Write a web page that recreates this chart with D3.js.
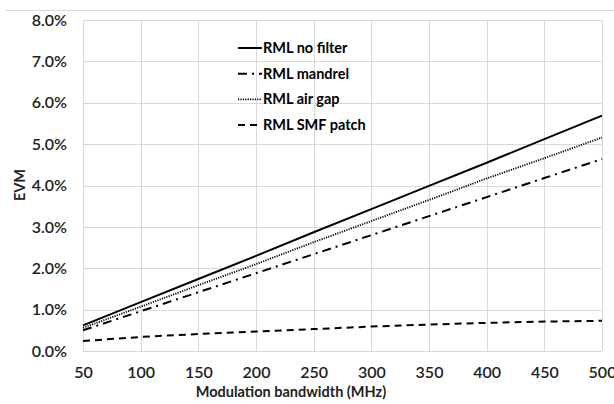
<!DOCTYPE html>
<html>
<head>
<meta charset="utf-8">
<script src="https://cdn.jsdelivr.net/npm/d3@7"></script>
<style>
  body { margin: 0; background: #fff; }
  svg { display: block; font-family: Lato, sans-serif; }
</style>
</head>
<body>
<svg width="614" height="404"></svg>
<script>
// bandwidth points (MHz)
var bandwidth = [50, 100, 150, 200, 250, 300, 350, 400, 450, 500];
// EVM values in %
var noFilter = [0.62, 1.18, 1.74, 2.30, 2.87, 3.43, 3.99, 4.55, 5.12, 5.69];
var mandrel = [0.50, 0.96, 1.42, 1.88, 2.34, 2.80, 3.26, 3.72, 4.18, 4.64];
var airGap = [0.56, 1.07, 1.59, 2.10, 2.63, 3.14, 3.65, 4.17, 4.66, 5.16];
var smfPatch = [0.24, 0.34, 0.41, 0.47, 0.53, 0.59, 0.64, 0.68, 0.71, 0.73];
var seriesNames = ["RML no filter", "RML mandrel", "RML air gap", "RML SMF patch"];
var yTicks = [0, 1, 2, 3, 4, 5, 6, 7, 8];

var seriesList = [
    { name: seriesNames[0], values: noFilter, dash: null, width: 2 },
    { name: seriesNames[1], values: mandrel, dash: "9,5,2,5", width: 2 },
    { name: seriesNames[2], values: airGap, dash: "1.2,1.2", width: 1.8 },
    { name: seriesNames[3], values: smfPatch, dash: "7,5", width: 2 }
];

const svg = d3.select('svg');
const margin = { top: 20, left: 83, right: 12, bottom: 53 };
const width = 614, height = 404;
const innerWidth = width - margin.left - margin.right;
const innerHeight = height - margin.top - margin.bottom;

// chart area top border
svg.append('line')
    .attr('x1', 5).attr('x2', 614).attr('y1', 10.5).attr('y2', 10.5)
    .attr('stroke', '#d9d9d9');

const xScale = d3.scaleLinear().domain([50, 500]).range([0, innerWidth]);
const yScale = d3.scaleLinear().domain([0, 8]).range([innerHeight, 0]);

const g = svg.append('g')
    .attr('transform', 'translate(' + margin.left + ',' + margin.top + ')');

// gridlines
g.append('g').selectAll('line').data(yTicks).join('line')
    .attr('x1', 0).attr('x2', innerWidth)
    .attr('y1', d => Math.round(yScale(d)) + 0.5)
    .attr('y2', d => Math.round(yScale(d)) + 0.5)
    .attr('stroke', '#d9d9d9');
g.append('g').selectAll('line').data(bandwidth).join('line')
    .attr('y1', 0).attr('y2', innerHeight)
    .attr('x1', d => Math.round(xScale(d)) + 0.5)
    .attr('x2', d => Math.round(xScale(d)) + 0.5)
    .attr('stroke', '#d9d9d9');

// axes (labels only)
const yAxis = d3.axisLeft(yScale).tickValues(yTicks)
    .tickFormat(d => d.toFixed(1) + '%').tickSize(0).tickPadding(16);
g.append('g').call(yAxis)
    .attr('font-family', 'Lato, sans-serif')
    .attr('font-size', 16).attr('font-weight', 600)
    .call(a => a.select('.domain').remove())
    .selectAll('text').attr('fill', '#222');

const xAxis = d3.axisBottom(xScale).tickValues(bandwidth).tickSize(0).tickPadding(16);
g.append('g').call(xAxis)
    .attr('transform', `translate(0,${innerHeight})`)
    .attr('font-family', 'Lato, sans-serif')
    .attr('font-size', 16).attr('font-weight', 600)
    .call(a => a.select('.domain').remove())
    .selectAll('text').attr('fill', '#222');

// lines
const line = d3.line()
    .x((d, i) => xScale(bandwidth[i]))
    .y(d => yScale(d));

g.selectAll('path.series').data(seriesList).join('path')
    .attr('class', 'series')
    .attr('fill', 'none')
    .attr('stroke', '#000')
    .attr('stroke-width', d => d.width)
    .attr('stroke-dasharray', d => d.dash)
    .attr('d', d => line(d.values));

// legend
const legend = svg.append('g').attr('transform', 'translate(238,48)');
const items = legend.selectAll('g').data(seriesList).join('g')
    .attr('transform', (d, i) => `translate(0,${i * 25.7})`);
items.append('line')
    .attr('x1', 0).attr('x2', 24).attr('y1', 0).attr('y2', 0)
    .attr('stroke', '#000')
    .attr('stroke-width', d => d.width)
    .attr('stroke-dasharray', d => d.dash);
items.append('text')
    .attr('x', 25).attr('y', 0).attr('dy', '0.35em')
    .attr('font-size', 14.5).attr('font-weight', 700).attr('fill', '#000')
    .text(d => d.name);

// axis titles
svg.append('text')
    .attr('x', 291).attr('y', 392).attr('dy', '0.35em')
    .attr('text-anchor', 'middle')
    .attr('font-size', 14.5).attr('font-weight', 700).attr('fill', '#222')
    .text('Modulation bandwidth (MHz)');
svg.append('text')
    .attr('transform', 'translate(20,185) rotate(-90)')
    .attr('dy', '0.35em')
    .attr('text-anchor', 'middle')
    .attr('font-size', 14.5).attr('font-weight', 700).attr('fill', '#222')
    .text('EVM');
</script>
</body>
</html>
